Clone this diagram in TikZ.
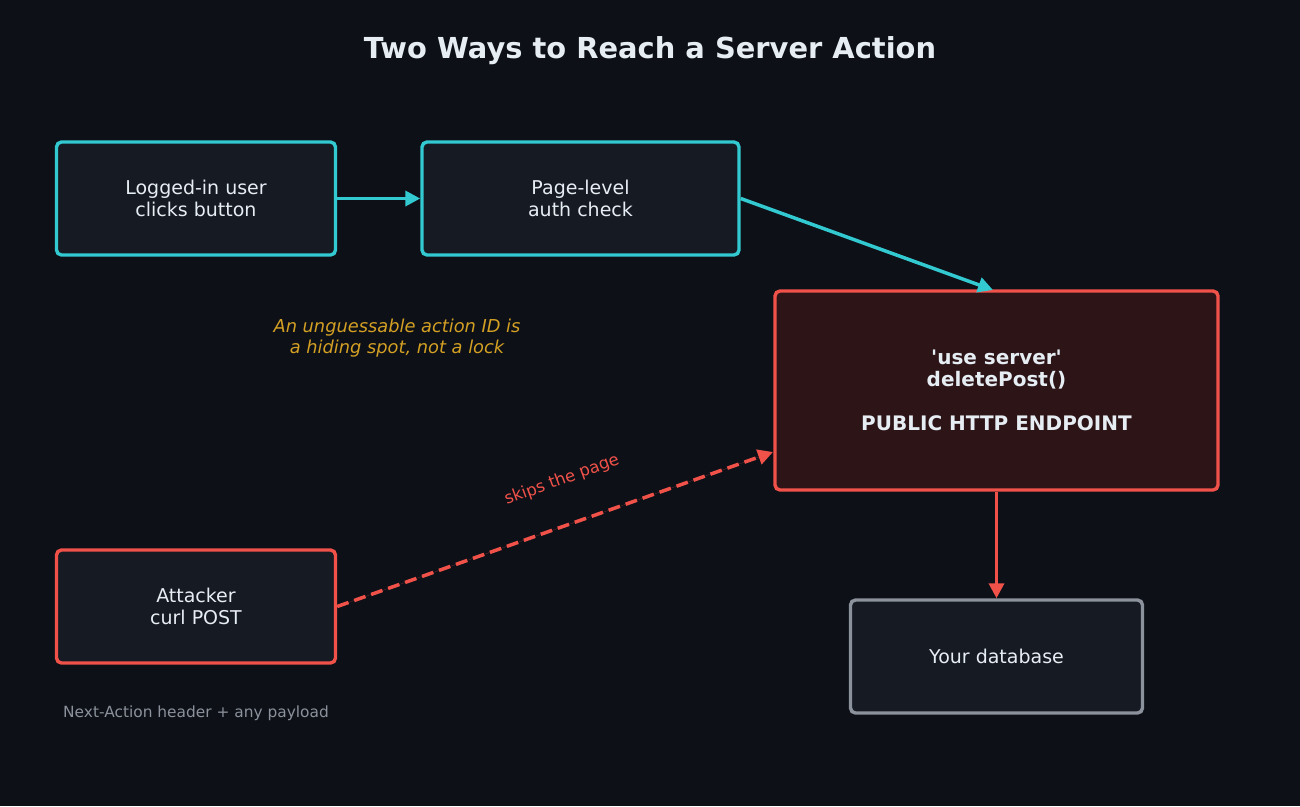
\documentclass[tikz,border=0pt]{standalone}
\usepackage{fontspec}
\setmainfont{DejaVu Sans}
\usetikzlibrary{arrows.meta}
\definecolor{bg}{HTML}{0D1017}
\definecolor{boxfill}{HTML}{161A22}
\definecolor{cyanc}{HTML}{33C9D1}
\definecolor{redc}{HTML}{F0524A}
\definecolor{redfill}{HTML}{2C1417}
\definecolor{grayc}{HTML}{8B929B}
\definecolor{textc}{HTML}{E6EDF3}
\definecolor{orangec}{HTML}{D4A024}
\tikzset{
  box/.style={rounded corners=5pt, line width=3.4pt, fill=boxfill, inner sep=0pt,
    align=center, text=textc, font=\fontsize{19}{22}\selectfont},
  arr/.style={line width=3.5pt, -{Triangle[length=15pt,width=15pt]}},
}
\begin{document}
\begin{tikzpicture}[x=1pt,y=-1pt]
\fill[bg] (0,0) rectangle (1300,806);
\useasboundingbox (0,0) rectangle (1300,806);
\node[text=textc, font=\fontsize{28.9}{32}\selectfont\bfseries] (title) at (650,51) {Two Ways to Reach a Server Action};
\node[box, draw=cyanc, minimum width=279pt, minimum height=113pt] (user) at (196,198.5) {Logged-in user\\clicks button};
\node[box, draw=cyanc, minimum width=317pt, minimum height=113pt] (page) at (580.5,198.5) {Page-level\\auth check};
\node[box, draw=redc, fill=redfill, minimum width=443pt, minimum height=199pt, font=\fontsize{20}{22}\selectfont\bfseries] (srv) at (996.5,390.5) {\textquotesingle use server\textquotesingle\\deletePost()\\[22pt]PUBLIC HTTP ENDPOINT};
\node[box, draw=redc, minimum width=279pt, minimum height=113pt] (att) at (196,606.5) {Attacker\\curl POST};
\node[box, draw=grayc, minimum width=292pt, minimum height=113pt] (db) at (996.5,656.5) {Your database};
\node[text=orangec, align=center, font=\fontsize{17.8}{21}\selectfont\itshape] (note) at (397,338) {An unguessable action ID is\\a hiding spot, not a lock};
\node[text=grayc, font=\fontsize{15.4}{18}\selectfont] (hdr) at (196,713) {Next-Action header + any payload};
\coordinate (srvtop) at (993,290);
\coordinate (srvleft) at (773,452);
\draw[arr, draw=cyanc, fill=cyanc] (user.east) -- (page.west);
\draw[arr, draw=cyanc, fill=cyanc] (page.east) -- (srvtop);
\draw[arr, draw=redc, fill=redc, dash pattern=on 12pt off 6pt] (att.east) -- (srvleft);
\node[text=redc, rotate=20, font=\fontsize{16.5}{18}\selectfont] (skip) at (562,480) {skips the page};
\draw[arr, draw=redc, fill=redc] (srv.south) -- (db.north);
\end{tikzpicture}
\end{document}
